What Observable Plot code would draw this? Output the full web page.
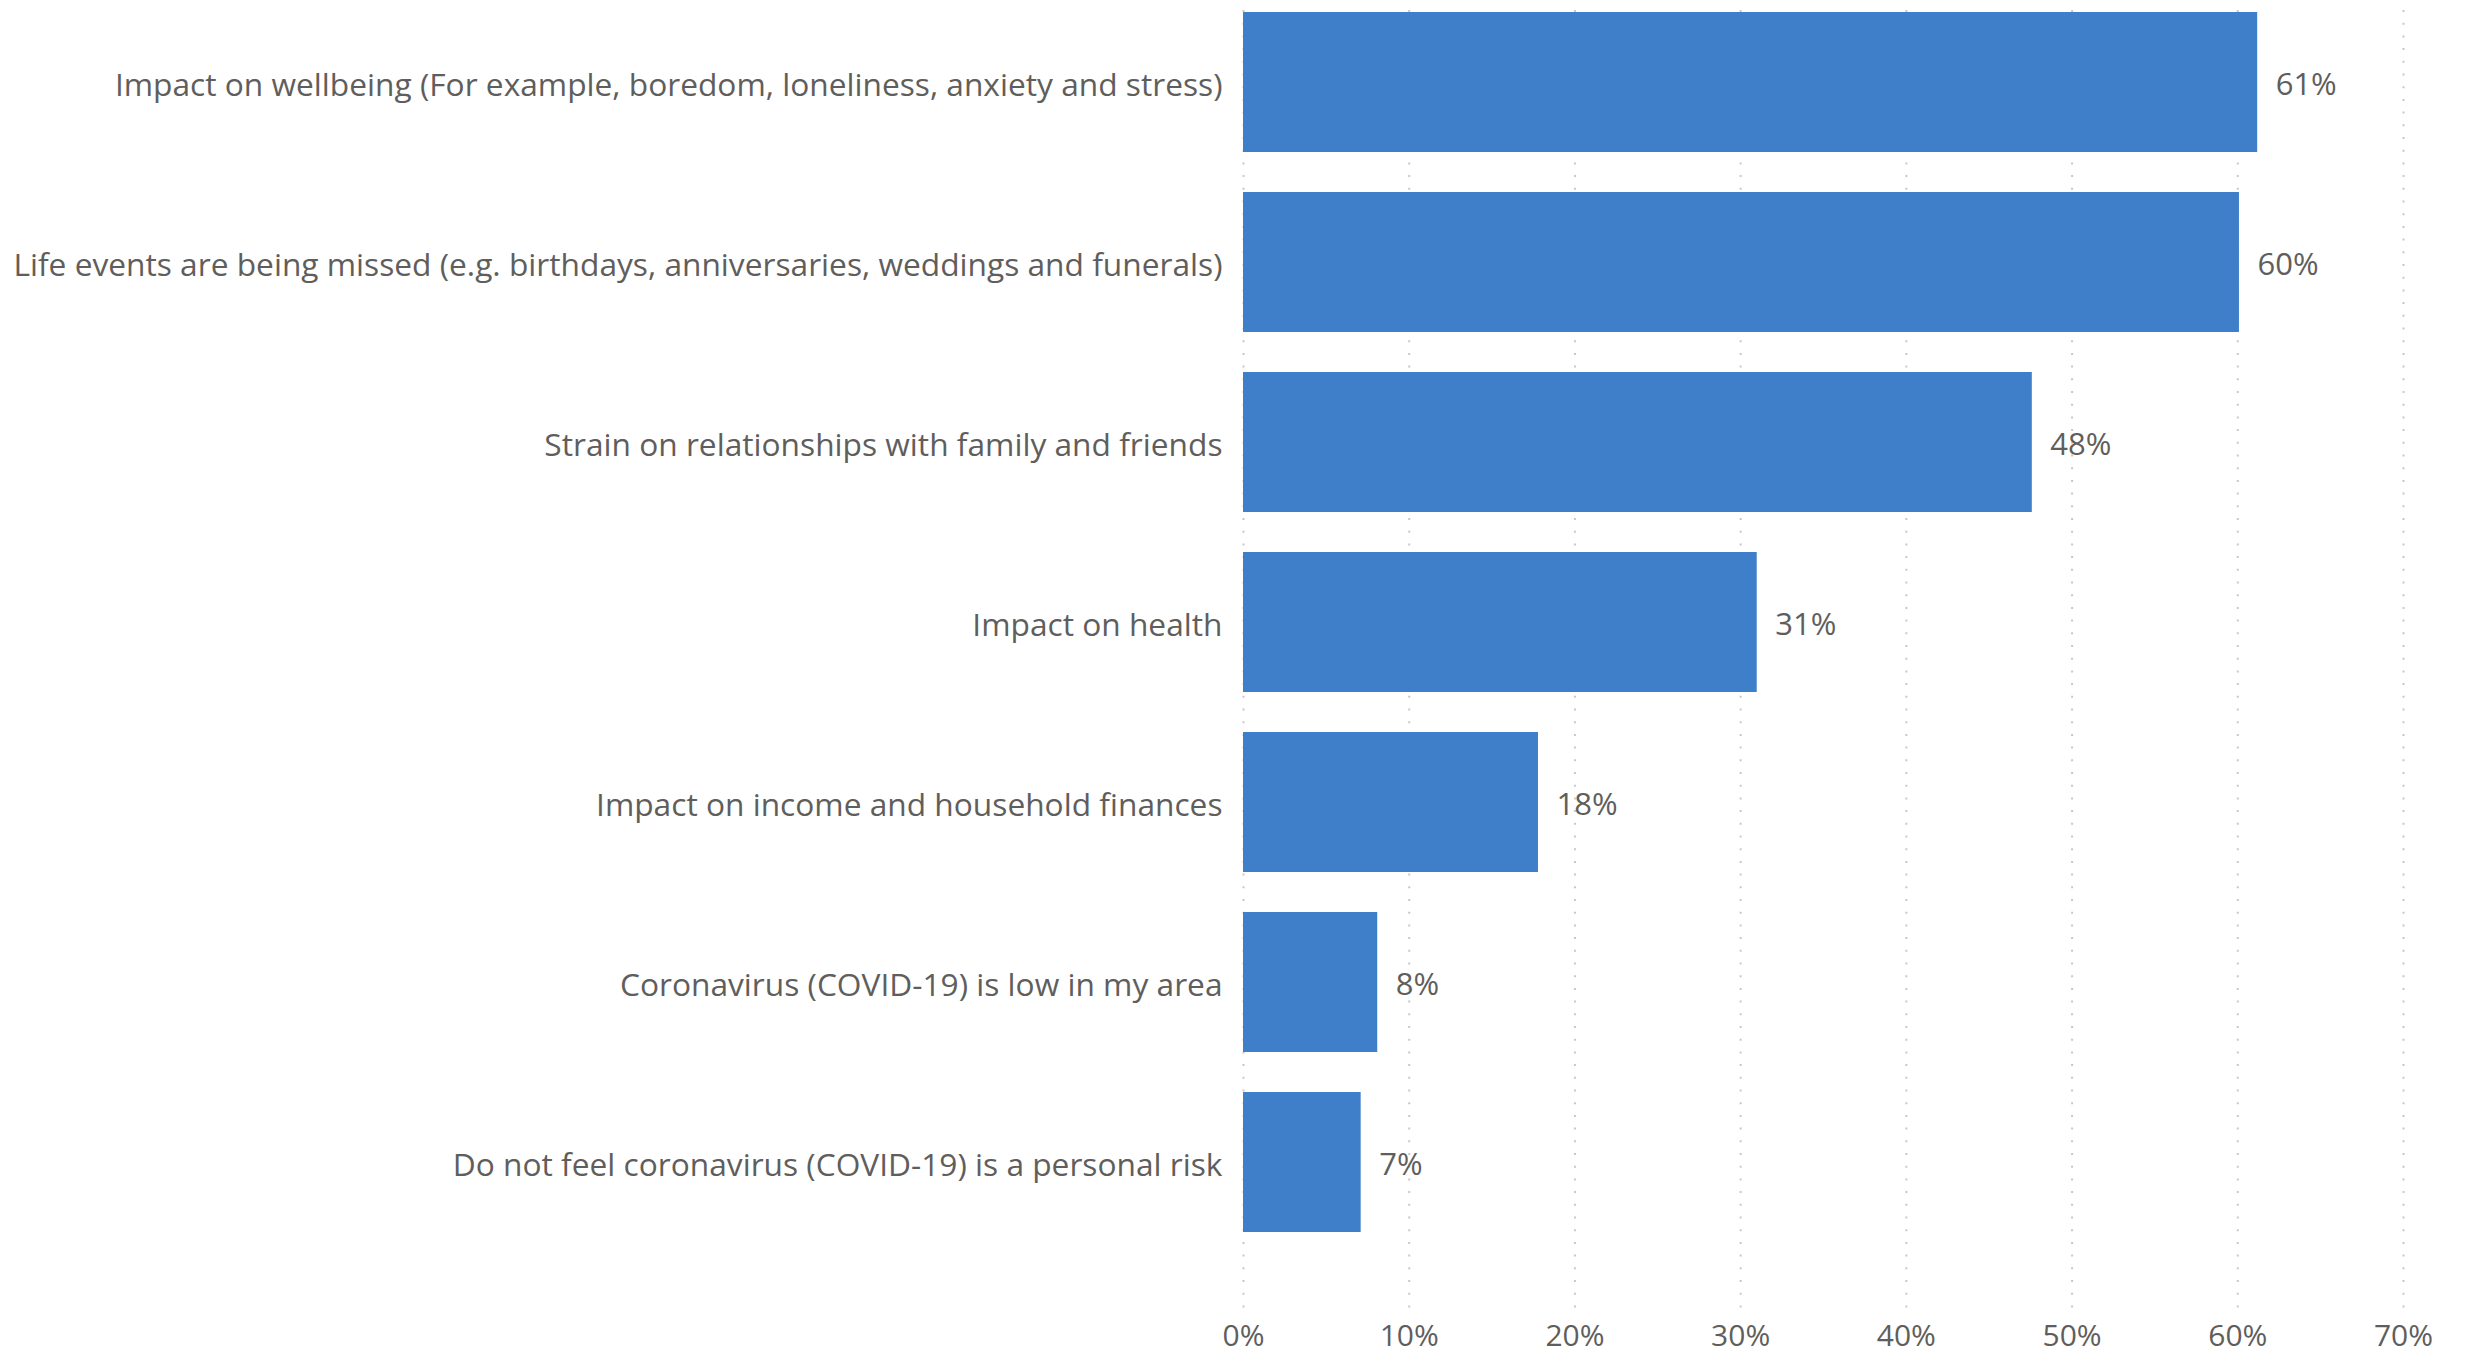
<!DOCTYPE html>
<html>
<head>
<meta charset="utf-8">
<script src="https://cdn.jsdelivr.net/npm/d3@7"></script>
<script src="https://cdn.jsdelivr.net/npm/@observablehq/plot@0.6"></script>
<style>
  html, body { margin: 0; padding: 0; background: #fff; }
  #chart svg { display: block; }
</style>
</head>
<body>
<div id="chart"></div>
<script>
const categories = [
  "Impact on wellbeing (For example, boredom, loneliness, anxiety and stress)",
  "Life events are being missed (e.g. birthdays, anniversaries, weddings and funerals)",
  "Strain on relationships with family and friends",
  "Impact on health",
  "Impact on income and household finances",
  "Coronavirus (COVID-19) is low in my area",
  "Do not feel coronavirus (COVID-19) is a personal risk"
];
const values = [61.2, 60.1, 47.6, 31.0, 17.8, 8.1, 7.1];
const valueLabels = ["61%", "60%", "48%", "31%", "18%", "8%", "7%"];
const xTicks = [0, 10, 20, 30, 40, 50, 60, 70];
const xTickLabels = ["0%", "10%", "20%", "30%", "40%", "50%", "60%", "70%"];

const data = categories.map((c, i) => ({category: c, value: values[i], label: valueLabels[i]}));

const textColor = "#605e5c";
const barColor = "#3f7ec8";

const chart = Plot.plot({
  width: 2467,
  height: 1355,
  marginTop: 10,
  marginBottom: 45,
  marginLeft: 1243,
  marginRight: 64,
  style: {
    fontFamily: "'Open Sans', 'Noto Sans', sans-serif",
    fontSize: "30px",
    color: textColor,
    background: "#fff",
    overflow: "visible"
  },
  x: {domain: [0, 70]},
  y: {domain: categories, paddingInner: 0.22, paddingOuter: 0.211, align: 0.02},
  marks: [
    Plot.gridX(xTicks, {stroke: "#c8c8c8", strokeOpacity: 1, strokeWidth: 2, strokeDasharray: "2,10.7"}),
    Plot.barX(data, {x: "value", y: "category", fill: barColor}),
    Plot.text(data, {x: "value", y: "category", text: "label", textAnchor: "start", dx: 18, dy: 3, fill: textColor, fontSize: 31}),
    Plot.axisX({ticks: xTicks, tickFormat: (d) => xTickLabels[xTicks.indexOf(d)], tickSize: 0, tickPadding: 14, fontSize: 30, label: null}),
    Plot.axisY({tickSize: 0, tickPadding: 21, fontSize: 31.7, dy: 3, label: null})
  ]
});
document.getElementById("chart").appendChild(chart);
</script>
</body>
</html>
